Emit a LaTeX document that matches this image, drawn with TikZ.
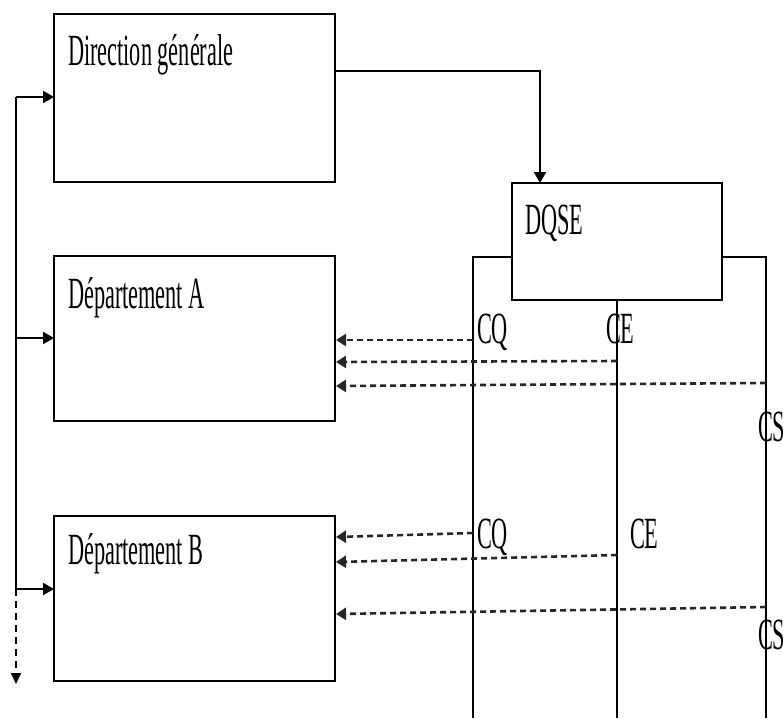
\documentclass[tikz,border=0pt]{standalone}
\usepackage{fontspec}
\setmainfont{Liberation Serif}
\usetikzlibrary{arrows.meta}
\newcommand{\lbl}[1]{\scalebox{1}[2.0]{\fontsize{22.3}{26}\selectfont #1}}
\begin{document}
\begin{tikzpicture}[x=1pt,y=-1pt,
  boxst/.style={draw,line width=2.2pt,anchor=north west,inner sep=0pt,outer sep=0pt},
  txt/.style={anchor=base west,inner sep=0pt,outer sep=0pt},
  solidln/.style={line width=2pt},
  arr/.style={line width=2pt,-{Triangle[length=11pt,width=12pt]}},
  darr/.style={line width=2.6pt,black!85,dash pattern=on 6pt off 4pt,-{Triangle[length=10pt,width=12pt]}}
]
\clip (0,0) rectangle (783,718);
\fill[white] (0,0) rectangle (783,718);

% boxes
\node[boxst,minimum width=281pt,minimum height=168pt] (DG) at (54,14) {};
\node[boxst,minimum width=281pt,minimum height=165pt] (DepA) at (54,256) {};
\node[boxst,minimum width=281pt,minimum height=165pt] (DepB) at (54,516) {};
\node[boxst,minimum width=210pt,minimum height=117pt] (DQSE) at (512,183) {};

% texts
\node[txt] (tDG) at (68,65) {\lbl{Direction générale}};
\node[txt] (tA) at (68,308) {\lbl{Département A}};
\node[txt] (tB) at (68,564) {\lbl{Département B}};
\node[txt] (tQ) at (525,234) {\lbl{DQSE}};
\node[txt] (cq1) at (477,343) {\lbl{CQ}};
\node[txt] (ce1) at (606,343) {\lbl{CE}};
\node[txt] (cs1) at (758,441) {\lbl{CS}};
\node[txt] (cq2) at (477,548) {\lbl{CQ}};
\node[txt] (ce2) at (630,548) {\lbl{CE}};
\node[txt] (cs2) at (758,649) {\lbl{CS}};

% left bus
\coordinate (b1) at (16,97);
\coordinate (b2) at (16,338);
\coordinate (b3) at (16,589);
\coordinate (bend) at (16,684);
\draw[solidln] (b1) -- (b3);
\draw[arr] (b1) -- (b1 -| DG.west);
\draw[arr] (b2) -- (b2 -| DepA.west);
\draw[arr] (b3) -- (b3 -| DepB.west);
\draw[line width=1.6pt,dash pattern=on 7pt off 5pt,-{Triangle[length=11pt,width=10pt]}] (b3) -- (bend);

% DG to DQSE
\coordinate (c1) at (335,71);
\coordinate (dqin) at (540,183);
\draw[arr] (c1) -| (dqin);

% frame around DQSE
\coordinate (fl) at (473,257);
\coordinate (fr) at (766,257);
\draw[solidln] (fl -| DQSE.west) -- (fl) -- (473,718);
\draw[solidln] (fr -| DQSE.east) -- (fr) -- (766,718);
\draw[solidln] (DQSE.south) -- (617,718);

% dashed arrows, department A
\coordinate (a1s) at (473,340); \coordinate (a1e) at (336,340);
\coordinate (a2s) at (617,361); \coordinate (a2e) at (336,362);
\coordinate (a3s) at (766,383); \coordinate (a3e) at (336,386);
\draw[darr] (a1s) -- (a1e);
\draw[darr] (a2s) -- (a2e);
\draw[darr] (a3s) -- (a3e);

% dashed arrows, department B
\coordinate (d1s) at (473,533); \coordinate (d1e) at (336,537);
\coordinate (d2s) at (617,555); \coordinate (d2e) at (336,562);
\coordinate (d3s) at (766,607); \coordinate (d3e) at (336,614);
\draw[darr] (d1s) -- (d1e);
\draw[darr] (d2s) -- (d2e);
\draw[darr] (d3s) -- (d3e);
\end{tikzpicture}
\end{document}
